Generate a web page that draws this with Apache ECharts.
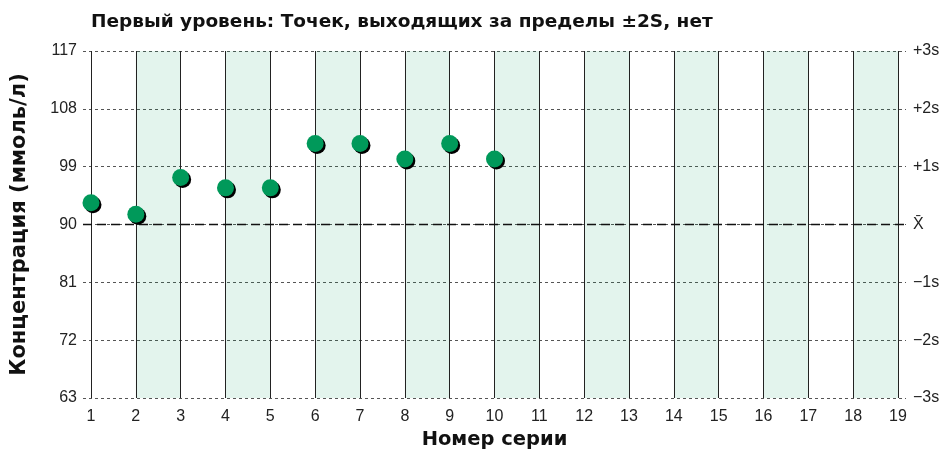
<!DOCTYPE html>
<html><head><meta charset="utf-8">
<script src="https://cdn.jsdelivr.net/npm/echarts@6/dist/echarts.min.js"></script>
<style>html,body{margin:0;padding:0;background:#fff}#c{width:947px;height:455px}</style>
</head><body><div id="c"></div>
<script>
const titleText = 'Первый уровень: Точек, выходящих за пределы ±2S, нет';
const xName = 'Номер серии';
const yName = 'Концентрация (ммоль/л)';
const seriesNumbers = [1,2,3,4,5,6,7,8,9,10,11,12,13,14,15,16,17,18,19];
const measuredRuns = [1,2,3,4,5,6,7,8,9,10];
const measuredValues = [93.4,91.6,97.3,95.7,95.7,102.6,102.6,100.2,102.6,100.2];
const bandStarts = [2,4,6,8,10,12,14,16,18];
const yMin = 63, yMax = 117, yStep = 9;
const meanValue = 90;
const sdTickLabels = {117:'+3s',108:'+2s',99:'+1s',90:'X\u0304',81:'\u22121s',72:'\u22122s',63:'\u22123s'};

const FONT = '"Liberation Sans", Arial, sans-serif';
const BOLD = '"DejaVu Sans", sans-serif';
const chart = echarts.init(document.getElementById('c'));
chart.setOption({
  animation:false,
  textStyle:{fontFamily:FONT},
  title:{text:titleText,left:91,top:13,padding:0,textStyle:{fontFamily:BOLD,fontSize:18.5,fontWeight:'bold',color:'#111'}},
  grid:{left:83,right:41,top:51,bottom:57},
  xAxis:{type:'value',min:0.822,max:19.178,
    name:xName,nameLocation:'middle',nameGap:30,
    nameTextStyle:{fontFamily:BOLD,fontSize:19.5,fontWeight:'bold',color:'#111'},
    axisLine:{show:false},axisTick:{show:false},splitLine:{show:false},
    axisLabel:{customValues:seriesNumbers,color:'#222',fontSize:16,margin:11,fontFamily:FONT}},
  yAxis:[
    {type:'value',min:yMin,max:yMax,interval:yStep,
     name:yName,nameLocation:'middle',nameGap:53,
     nameTextStyle:{fontFamily:BOLD,fontSize:21,fontWeight:'bold',color:'#111'},
     axisLine:{show:false},axisTick:{show:false},
     axisLabel:{color:'#222',fontSize:16,margin:6,fontFamily:FONT},
     splitLine:{show:true,lineStyle:{color:'#555',type:[3,3],width:1}}},
    {type:'value',min:yMin,max:yMax,interval:yStep,position:'right',
     axisLine:{show:false},axisTick:{show:false},splitLine:{show:false},
     axisLabel:{color:'#222',fontSize:16,margin:7,fontFamily:FONT,formatter:v=>sdTickLabels[v]||''}}
  ],
  series:[
    {type:'line',data:[],z:1,silent:true,
     markArea:{silent:true,itemStyle:{color:'rgba(0,153,90,0.11)'},
       data:bandStarts.map(s=>[{xAxis:s},{xAxis:s+1}])},
     markLine:{silent:true,symbol:'none',label:{show:false},animation:false,
       data:seriesNumbers.map(n=>({xAxis:n,lineStyle:{color:'#222',type:'solid',width:1}}))
         .concat([{yAxis:meanValue,lineStyle:{color:'#111',type:[9,5],width:1.3}}])}
    },
    {type:'scatter',
     data:measuredRuns.map((r,i)=>[r,measuredValues[i]]),
     symbolSize:17,z:5,
     itemStyle:{color:'#00995a',opacity:1,shadowColor:'#000',shadowBlur:0,shadowOffsetX:2,shadowOffsetY:2}}
  ]
});
</script></body></html>
